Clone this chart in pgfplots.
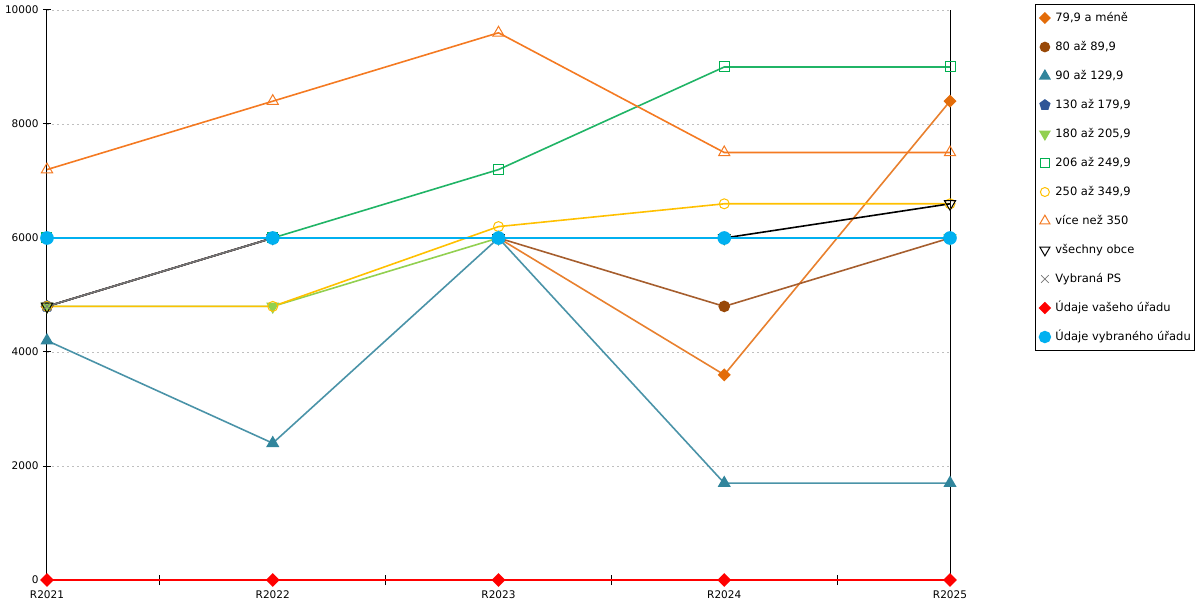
\documentclass[border=0pt]{standalone}
\usepackage{fontspec}
\setmainfont{DejaVu Sans}
\usepackage{pgfplots}
\pgfplotsset{compat=1.18}
\definecolor{cOr}{HTML}{E36C09}
\definecolor{cOrL}{HTML}{E8802E}
\definecolor{cBr}{HTML}{984807}
\definecolor{cBrL}{HTML}{A65E2E}
\definecolor{cTe}{HTML}{31859C}
\definecolor{cTeL}{HTML}{4A93A8}
\definecolor{cDb}{HTML}{2F5597}
\definecolor{cLg}{HTML}{92D050}
\definecolor{cGr}{HTML}{00B050}
\definecolor{cGrL}{HTML}{20B466}
\definecolor{cYe}{HTML}{FFC000}
\definecolor{cOr2}{HTML}{F47A22}
\definecolor{cGy}{HTML}{777777}
\definecolor{cBl}{HTML}{00B0F0}
\begin{document}
\begin{tikzpicture}
\useasboundingbox (0,0) rectangle (1200pt,600pt);
\begin{axis}[
  at={(47pt,20pt)}, anchor=south west,
  scale only axis, width=903pt, height=570pt,
  xmin=0, xmax=4, ymin=0, ymax=10000,
  clip=false,
  axis lines=left, axis line style={-, black, line width=1pt},
  xtick={0,1,2,3,4},
  xticklabels={R2021,R2022,R2023,R2024,R2025},
  minor xtick={0.5,1.5,2.5,3.5},
  ytick={0,2000,4000,6000,8000,10000},
  scaled y ticks=false,
  tick align=center,
  major tick length=8pt, minor tick length=10pt,
  major x tick style={draw=none},
  minor x tick style={black, line width=1pt},
  major y tick style={black, line width=1pt},
  ymajorgrids,
  major grid style={gray!50, dash pattern=on 2pt off 3pt, line width=0.8pt},
  tick label style={font=\fontsize{10.5}{12}\selectfont},
  xticklabel style={yshift=-3pt},
  yticklabel style={xshift=-1pt},
  /pgf/number format/assume math mode=true,
  /pgf/number format/set thousands separator={},
  legend style={at={(1.09413,1.0105)}, anchor=north west,
    draw=black, line width=1pt, inner xsep=4pt, inner ysep=7.5pt,
    font=\fontsize{11.5}{13}\selectfont,
    nodes={inner sep=0pt, text height=9pt, text depth=3pt, anchor=west},
    row sep=17pt},
  legend cell align=left,
  legend image code/.code={\path[draw=none] (0pt,0pt) -- (15pt,0pt); \draw[#1, every mark/.append style={scale=0.9}] plot[only marks] coordinates {(4.5pt,0pt)};},
  every axis plot/.append style={line width=1.6pt},
]
\draw[black, line width=1pt] (rel axis cs:1,0) -- (rel axis cs:1,1);
\addplot[color=cOrL, mark=square*, mark size=3.8pt, mark options={fill=cOr, draw=cOr, rotate=45}] coordinates {(0,4800) (1,6000) (2,6000) (3,3600) (4,8400)};
\addlegendentry{79,9 a méně}
\addplot[color=cBrL, mark=*, mark size=5pt, mark options={fill=cBr, draw=cBr}] coordinates {(0,4800) (1,6000) (2,6000) (3,4800) (4,6000)};
\addlegendentry{80 až 89,9}
\addplot[color=cTeL, mark=triangle*, mark size=6pt, mark options={fill=cTe, draw=cTe}] coordinates {(0,4200) (1,2400) (2,6000) (3,1700) (4,1700)};
\addlegendentry{90 až 129,9}
\addplot[color=cDb, mark=pentagon*, mark size=5.5pt, mark options={fill=cDb, draw=cDb}] coordinates {(0,4800) (1,6000) (2,6000) (3,6000) (4,6000)};
\addlegendentry{130 až 179,9}
\addplot[color=cLg, mark=triangle*, mark size=6pt, mark options={fill=cLg, draw=cLg, rotate=180}] coordinates {(0,4800) (1,4800) (2,6000) (3,6000) (4,6000)};
\addlegendentry{180 až 205,9}
\addplot[color=cGrL, mark=square, mark size=5pt, mark options={draw=cGr, fill=white, line width=1pt}] coordinates {(0,6000) (1,6000) (2,7200) (3,9000) (4,9000)};
\addlegendentry{206 až 249,9}
\addplot[color=cYe, mark=o, mark size=5pt, mark options={draw=cYe, fill=white, line width=1pt}] coordinates {(0,4800) (1,4800) (2,6200) (3,6600) (4,6600)};
\addlegendentry{250 až 349,9}
\addplot[color=cOr2, mark=triangle, mark size=6.5pt, mark options={draw=cOr2, fill=white, line width=1pt}] coordinates {(0,7200) (1,8400) (2,9600) (3,7500) (4,7500)};
\addlegendentry{více než 350}
\addplot[color=black, mark=triangle, mark size=6.5pt, mark options={draw=black, line width=1pt, rotate=180}] coordinates {(0,4800) (1,6000) (2,6000) (3,6000) (4,6600)};
\addlegendentry{všechny obce}
\addplot[color=cGy, mark=x, mark size=6pt, mark options={draw=cGy, line width=0.8pt}] coordinates {(0,4800) (1,6000) (2,6000) (3,6000) (4,6000)};
\addlegendentry{Vybraná PS}
\addplot[color=red, mark=square*, mark size=4pt, mark options={fill=red, draw=red, rotate=45}] coordinates {(0,0) (1,0) (2,0) (3,0) (4,0)};
\addlegendentry{Údaje vašeho úřadu}
\addplot[color=cBl, mark=*, mark size=6pt, mark options={fill=cBl, draw=cBl}] coordinates {(0,6000) (1,6000) (2,6000) (3,6000) (4,6000)};
\addlegendentry{Údaje vybraného úřadu}
\end{axis}
\end{tikzpicture}
\end{document}
